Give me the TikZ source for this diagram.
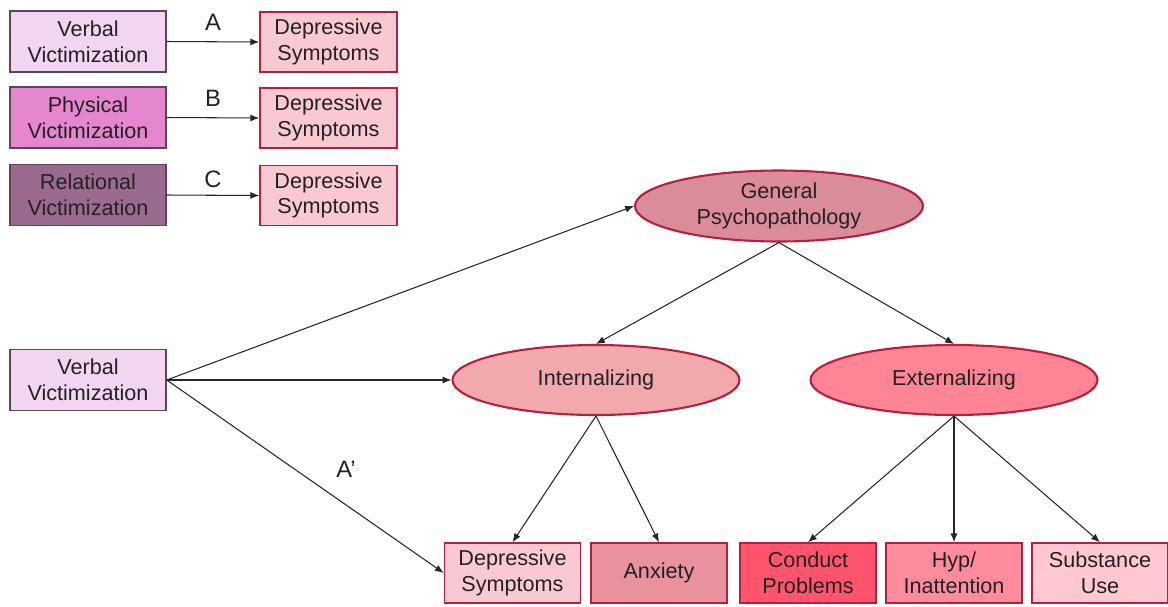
\documentclass[tikz,border=0pt]{standalone}
\usepackage{fontspec}
\setmainfont{Liberation Sans}
\usetikzlibrary{shapes.geometric,arrows.meta}

\definecolor{vicVerbal}{HTML}{F2D5F0}
\definecolor{vicPhys}{HTML}{E487CF}
\definecolor{vicRel}{HTML}{9B6B8F}
\definecolor{vicLine}{HTML}{5A4656}
\definecolor{depFill}{HTML}{F9C9D1}
\definecolor{redLine}{HTML}{B3213E}
\definecolor{gpFill}{HTML}{DB8C9B}
\definecolor{intFill}{HTML}{F1A9AE}
\definecolor{extFill}{HTML}{FF8595}
\definecolor{anxFill}{HTML}{E9929E}
\definecolor{condFill}{HTML}{FF546B}
\definecolor{hypFill}{HTML}{FF8C9C}
\definecolor{subFill}{HTML}{FFC7CF}
\definecolor{ink}{HTML}{222222}

\begin{document}
\begin{tikzpicture}[
  x=0.02cm, y=-0.02cm,
  every node/.style={font=\fontsize{12.3}{14.6}\selectfont, text=ink},
  vicbox/.style={draw=vicLine, line width=0.8pt, rectangle, align=center,
    minimum width=3.12cm, minimum height=1.22cm, inner sep=0pt},
  outbox/.style={draw=redLine, line width=0.9pt, rectangle, align=center,
    minimum width=2.72cm, minimum height=1.2cm, inner sep=0pt},
  latent/.style={draw=redLine, line width=1.2pt, ellipse, align=center,
    minimum width=5.74cm, minimum height=1.4cm, inner sep=0pt},
  path/.style={draw=black!85, line width=0.6pt, -{Latex[length=5pt,width=4pt]}},
  pathname/.style={font=\fontsize{13.5}{15}\selectfont}
]
\useasboundingbox (0,0) rectangle (1168,606);

% ---- top: three direct paths ----
\node[vicbox, fill=vicVerbal] (vv) at (88,41.5)  {Verbal\\Victimization};
\node[vicbox, fill=vicPhys]   (pv) at (88,117.5) {Physical\\Victimization};
\node[vicbox, fill=vicRel]    (rv) at (88,195)   {Relational\\Victimization};

\node[outbox, fill=depFill, minimum width=2.74cm] (d1) at (328.5,42)    {Depressive\\Symptoms};
\node[outbox, fill=depFill, minimum width=2.74cm] (d2) at (328.5,118)   {Depressive\\Symptoms};
\node[outbox, fill=depFill, minimum width=2.74cm] (d3) at (328.5,195.5) {Depressive\\Symptoms};

\draw[path] (vv.east) -- (d1.west);
\draw[path] (pv.east) -- (d2.west);
\draw[path] (rv.east) -- (d3.west);

\node[pathname] (la) at (213,22)  {A};
\node[pathname] (lb) at (213,98)  {B};
\node[pathname] (lc) at (213,179) {C};

% ---- bottom: latent model ----
\node[vicbox, fill=vicVerbal] (vb) at (88,380) {Verbal\\Victimization};

\node[latent, fill=gpFill, minimum width=5.76cm, minimum height=1.42cm] (gp) at (779,206) {General\\Psychopathology};
\node[latent, fill=intFill] (int) at (596,380) {Internalizing};
\node[latent, fill=extFill] (ext) at (954,380) {Externalizing};

% observed outcomes
\node[outbox, fill=depFill]  (dep)  at (512.5,573) {Depressive\\Symptoms};
\node[outbox, fill=anxFill]  (anx)  at (659,573)   {Anxiety};
\node[outbox, fill=condFill] (cond) at (808,573)   {Conduct\\Problems};
\node[outbox, fill=hypFill]  (hyp)  at (954,573)   {Hyp/\\Inattention};
\node[outbox, fill=subFill]  (sub)  at (1100,573)  {Substance\\Use};

% ---- paths ----
\draw[path] (vb.east) -- (gp.west);
\draw[path] (vb.east) -- (int.west);
\draw[path] (vb.east) -- (dep.west);
\node[pathname] (lap) at (346,469) {A'};

\draw[path] (gp.south) -- (int.north);
\draw[path] (gp.south) -- (ext.north);

\draw[path] (int.south) -- (dep.north);
\draw[path] (int.south) -- (anx.north);

\draw[path] (ext.south) -- (cond.north);
\draw[path] (ext.south) -- (hyp.north);
\draw[path] (ext.south) -- (sub.north);

\end{tikzpicture}
\end{document}
